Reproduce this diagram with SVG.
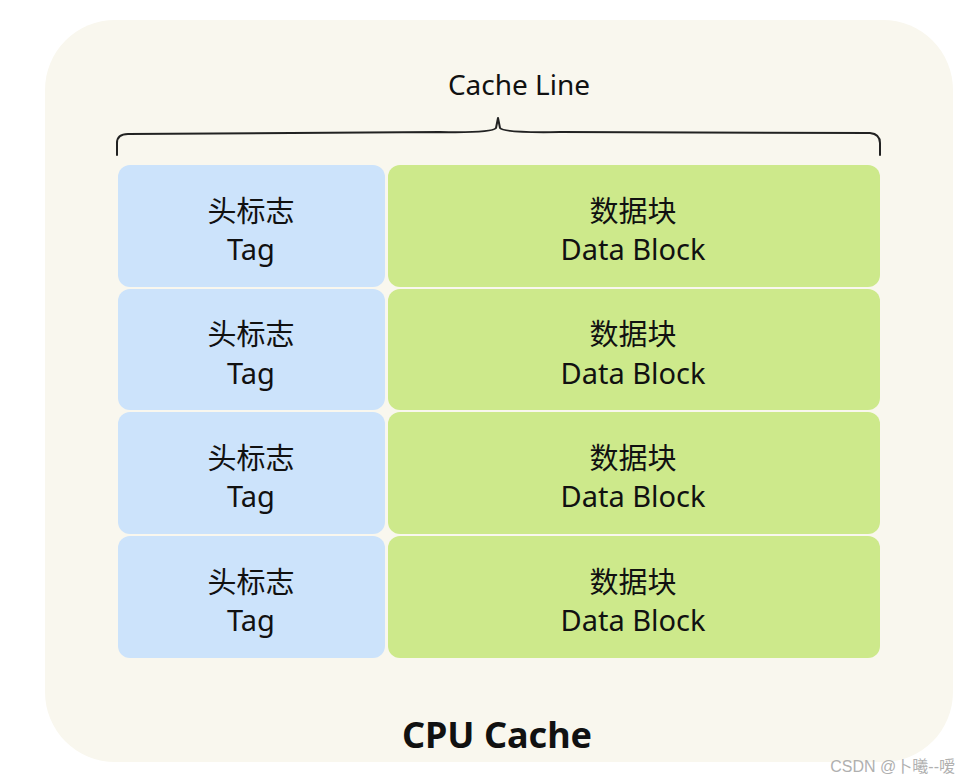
<svg xmlns="http://www.w3.org/2000/svg" width="962" height="782" viewBox="0 0 962 782">
<style>
.tag{fill:#cce3fb}
.data{fill:#cde98b}
.t{font-family:"Noto Sans","Noto Sans CJK SC",sans-serif;font-size:29px;fill:#111;text-anchor:middle}
.brace{fill:none;stroke:#222;stroke-width:2;stroke-linecap:round;stroke-linejoin:round}
</style>
<rect x="0" y="0" width="962" height="782" fill="#ffffff"/>
<rect id="panel" x="45" y="20" width="908" height="742" rx="70" fill="#f9f7ee"/>
<g id="brace">
<path class="brace" d="M117,155 L117,143 Q117,134 128,134 L440,132 Q492,133 496,128 L498,118 L500,128 Q504,133 560,132 L870,133 Q880,134 880,143 L880,155"/>
<text x="519" y="95" class="t" style="font-size:28px">Cache Line</text>
</g>
<g id="tag1"><rect class="tag" x="118" y="165" width="267" height="122" rx="12"/><text class="t" x="251" y="222">头标志</text><text class="t" x="251" y="260">Tag</text></g>
<g id="data1"><rect class="data" x="388" y="165" width="492" height="122" rx="12"/><text class="t" x="633" y="222">数据块</text><text class="t" x="633" y="260">Data Block</text></g>
<g id="tag2"><rect class="tag" x="118" y="289" width="267" height="121" rx="12"/><text class="t" x="251" y="345">头标志</text><text class="t" x="251" y="384">Tag</text></g>
<g id="data2"><rect class="data" x="388" y="289" width="492" height="121" rx="12"/><text class="t" x="633" y="345">数据块</text><text class="t" x="633" y="384">Data Block</text></g>
<g id="tag3"><rect class="tag" x="118" y="412" width="267" height="122" rx="12"/><text class="t" x="251" y="469">头标志</text><text class="t" x="251" y="507">Tag</text></g>
<g id="data3"><rect class="data" x="388" y="412" width="492" height="122" rx="12"/><text class="t" x="633" y="469">数据块</text><text class="t" x="633" y="507">Data Block</text></g>
<g id="tag4"><rect class="tag" x="118" y="536" width="267" height="122" rx="12"/><text class="t" x="251" y="593">头标志</text><text class="t" x="251" y="631">Tag</text></g>
<g id="data4"><rect class="data" x="388" y="536" width="492" height="122" rx="12"/><text class="t" x="633" y="593">数据块</text><text class="t" x="633" y="631">Data Block</text></g>
<text x="497" y="748" class="t" style="font-size:36px;font-weight:bold">CPU Cache</text>
<text x="955" y="772" style="font-family:'Liberation Sans','Noto Sans CJK SC',sans-serif;font-size:16px;fill:#b0b0b0;text-anchor:end">CSDN @卜曦--嗳</text>
</svg>
